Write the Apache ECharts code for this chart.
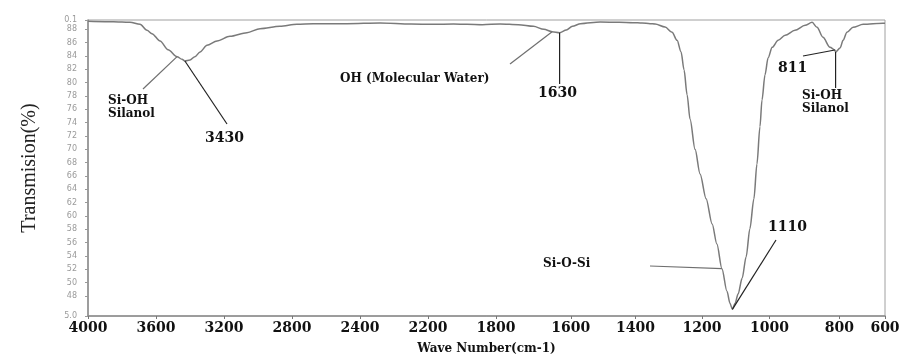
<!DOCTYPE html>
<html>
<head>
<meta charset="utf-8">
<script src="https://cdn.jsdelivr.net/npm/echarts@6/dist/echarts.min.js"></script>
<style>
  html, body { margin: 0; padding: 0; background: #ffffff; }
  #chart { width: 903px; height: 360px; }
</style>
</head>
<body>
<div id="chart"></div>
<script>
// Wave-number tick labels (cm-1) and the slot each one sits on along the x axis
const xTickLabels = [4000, 3600, 3200, 2800, 2400, 2200, 1800, 1600, 1400, 1200, 1000, 800, 600];
const xTickPos    = [0, 1, 2, 3, 4, 5, 6, 7.1, 8.05, 9.03, 10.02, 11.05, 11.72];

// Transmission ticks and their printed labels
const yTickValues = [45, 48, 50, 52, 54, 56, 58, 60, 62, 64, 66, 68, 70, 72, 74, 76, 78, 80, 82, 84, 86, 88, 89.4];
const yTickLabels = ['5.0', '48', '50', '52', '54', '56', '58', '60', '62', '64', '66', '68', '70', '72', '74', '76', '78', '80', '82', '84', '86', '88', '0.1'];

// FTIR spectrum: wave number (cm-1) and transmission (%)
const waveNumbers = [
  4000, 3900, 3800, 3753, 3694, 3653, 3624, 3576, 3529, 3476, 3447, 3430,
  3400, 3371, 3341, 3300, 3241, 3165, 3065, 2988, 2871, 2771, 2676, 2476,
  2341, 2250, 2170, 2050, 1970, 1880, 1789, 1740, 1700, 1672, 1650, 1630,
  1612, 1595, 1570, 1509, 1450, 1407, 1380, 1356, 1341, 1311, 1290, 1275,
  1263, 1254, 1245, 1236, 1221, 1206, 1188, 1170, 1156, 1141, 1126, 1117,
  1110, 1102, 1093, 1081, 1069, 1058, 1046, 1037, 1028, 1022, 1013, 1004,
  992, 975, 955, 927, 898, 878, 864, 847, 827, 813, 811, 797,
  784, 767, 740, 696, 609, 600
];
const transmission = [
  89.2, 89.15, 89.1, 89.05, 88.75, 87.85, 87.35, 86.25, 84.95, 83.9, 83.5, 83.25,
  83.4, 83.9, 84.6, 85.6, 86.25, 86.95, 87.5, 88.1, 88.45, 88.75, 88.85, 88.85,
  88.95, 88.8, 88.75, 88.8, 88.75, 88.7, 88.8, 88.7, 88.45, 88.0, 87.65, 87.5,
  87.9, 88.45, 88.85, 89.1, 89.05, 89.0, 88.95, 88.85, 88.8, 88.35, 87.55, 86.35,
  84.6, 81.9, 78.2, 74.5, 70.0, 66.3, 62.6, 58.8, 55.8, 52.1, 48.7, 46.9,
  46.0, 46.9, 48.3, 50.65, 53.9, 58.1, 62.6, 67.8, 73.4, 77.4, 81.2, 83.7,
  85.3, 86.35, 87.1, 87.85, 88.6, 89.05, 88.3, 86.8, 85.3, 84.9, 84.6, 85.2,
  86.35, 87.55, 88.3, 88.75, 88.9, 88.9
];

// Band assignments drawn as call-outs
const bandNotes = [
  { text: 'Si-OH\nSilanol', wave: 3476, value: 83.9, lx: 108, ly: 107, ex: 143, ey: 89, color: '#6f6f6f', size: 12 },
  { text: '3430', wave: 3430, value: 83.25, lx: 205, ly: 138, ex: 227, ey: 124, color: '#222222', size: 14 },
  { text: 'OH (Molecular Water)', wave: 1650, value: 87.65, lx: 340, ly: 79, ex: 510, ey: 64, color: '#6f6f6f', size: 12 },
  { text: '1630', wave: 1630, value: 87.5, lx: 538, ly: 93, ex: null, ey: 84, color: '#222222', size: 14 },
  { text: '811', wave: 813, value: 84.9, lx: 778, ly: 68, ex: 803, ey: 56, color: '#222222', size: 14 },
  { text: 'Si-OH\nSilanol', wave: 811, value: 84.6, lx: 802, ly: 102, ex: null, ey: 88, color: '#222222', size: 12 },
  { text: 'Si-O-Si', wave: 1141, value: 52.1, lx: 543, ly: 264, ex: 650, ey: 266, color: '#6f6f6f', size: 12 },
  { text: '1110', wave: 1110, value: 46.0, lx: 768, ly: 227, ex: 776, ey: 240, color: '#222222', size: 14 }
];

// Piecewise-linear placement of a wave number between the labelled ticks
function waveToPos(w) {
  for (let i = 0; i < xTickLabels.length - 1; i++) {
    const a = xTickLabels[i], b = xTickLabels[i + 1];
    if (w <= a && w >= b) {
      return xTickPos[i] + (a - w) / (a - b) * (xTickPos[i + 1] - xTickPos[i]);
    }
  }
  return w > xTickLabels[0] ? xTickPos[0] : xTickPos[xTickPos.length - 1];
}

function labelFor(values, labels, v) {
  for (let i = 0; i < values.length; i++) {
    if (Math.abs(values[i] - v) < 1e-6) return labels[i];
  }
  return '';
}

const chart = echarts.init(document.getElementById('chart'), null, { renderer: 'canvas' });

const axisGray = '#8c8c8c';

chart.setOption({
  animation: false,
  backgroundColor: '#ffffff',
  grid: {
    left: 88, right: 18, top: 20, bottom: 42,
    show: true, borderColor: '#a0a0a0', borderWidth: 1
  },
  xAxis: {
    type: 'value',
    min: 0,
    max: xTickPos[xTickPos.length - 1],
    name: 'Wave Number(cm-1)',
    nameLocation: 'middle',
    nameGap: 27,
    nameTextStyle: { fontFamily: 'DejaVu Serif', fontWeight: 'bold', fontSize: 12, color: '#111' },
    axisLine: { show: true, lineStyle: { color: axisGray, width: 1.5 } },
    axisTick: { show: true, customValues: xTickPos, length: 3, lineStyle: { color: '#777' } },
    axisLabel: {
      customValues: xTickPos,
      showMinLabel: true, showMaxLabel: true,
      margin: 5,
      fontFamily: 'DejaVu Serif', fontWeight: 'bold', fontSize: 14, color: '#111',
      formatter: v => String(labelFor(xTickPos, xTickLabels, v))
    },
    splitLine: { show: false }
  },
  yAxis: {
    type: 'value',
    min: yTickValues[0],
    max: yTickValues[yTickValues.length - 1],
    name: 'Transmision(%)',
    nameLocation: 'middle',
    nameGap: 48,
    nameTextStyle: { fontFamily: 'Liberation Serif', fontSize: 20, color: '#222' },
    axisLine: { show: true, lineStyle: { color: axisGray, width: 1.5 } },
    axisTick: { show: true, customValues: yTickValues, length: 3, lineStyle: { color: '#999' } },
    axisLabel: {
      customValues: yTickValues,
      showMinLabel: true, showMaxLabel: true,
      margin: 11,
      fontFamily: 'DejaVu Sans', fontSize: 8, color: '#9a9a9a',
      formatter: v => labelFor(yTickValues, yTickLabels, v)
    },
    splitLine: { show: false }
  },
  series: [{
    type: 'line',
    data: waveNumbers.map((w, i) => [waveToPos(w), transmission[i]]),
    showSymbol: false,
    smooth: 0.3,
    smoothMonotone: 'x',
    lineStyle: { color: '#7a7a7a', width: 1.5 },
    z: 3
  }]
});

// Call-out texts with leader lines to their bands
const graphics = [];
bandNotes.forEach(n => {
  const p = chart.convertToPixel({ xAxisIndex: 0, yAxisIndex: 0 }, [waveToPos(n.wave), n.value]);
  const ex = n.ex === null ? p[0] : n.ex;
  graphics.push({
    type: 'line',
    shape: { x1: p[0], y1: p[1], x2: ex, y2: n.ey },
    style: { stroke: n.color, lineWidth: 1.2 },
    z: 10
  });
  graphics.push({
    type: 'text',
    x: n.lx, y: n.ly,
    style: {
      text: n.text,
      font: 'bold ' + n.size + 'px "DejaVu Serif"',
      fill: '#111',
      align: 'left', verticalAlign: 'middle',
      textAlign: 'left', textVerticalAlign: 'middle',
      lineHeight: 13
    },
    z: 10
  });
});
chart.setOption({ graphic: graphics });
</script>
</body>
</html>
